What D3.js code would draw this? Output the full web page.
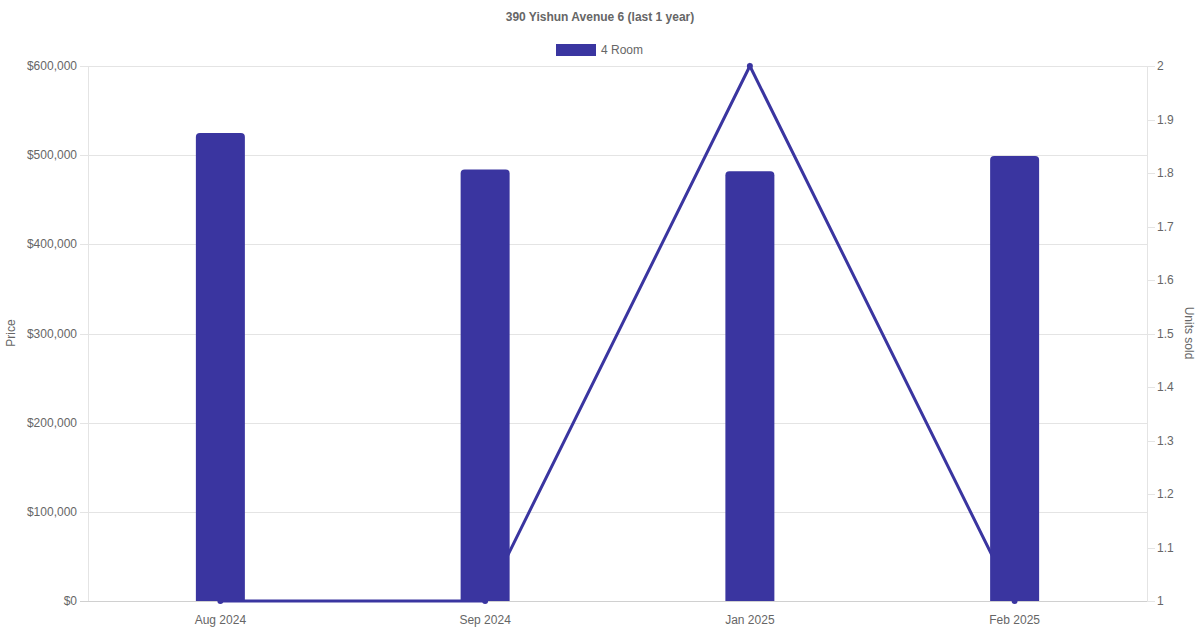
<!DOCTYPE html>
<html><head><meta charset="utf-8">
<script src="https://cdn.jsdelivr.net/npm/d3@7"></script>
<style>body{margin:0;background:#fff}svg{display:block}text{font-family:"Liberation Sans",Arial,Helvetica,sans-serif}</style>
</head><body><svg id="c" width="1200" height="630"></svg>
<script>
const categories = ["Aug 2024","Sep 2024","Jan 2025","Feb 2025"];
const prices = [525000, 484000, 482000, 499000];
const unitsSold = [1, 1, 2, 1];
const priceTicks = [0,100000,200000,300000,400000,500000,600000];
const unitTicks = [1,1.1,1.2,1.3,1.4,1.5,1.6,1.7,1.8,1.9,2];
const title = "390 Yishun Avenue 6 (last 1 year)";
const seriesName = "4 Room";
const color = "#3a35a0";
const grid = "#e4e4e4";
const txt = "#666";

const svg = d3.select("#c");
const L = 88, R = 1147, T = 66, B = 601;
const x = d3.scaleBand().domain(categories).range([L,R]);
const yL = d3.scaleLinear().domain([0,600000]).range([B,T]);
const yR = d3.scaleLinear().domain([1,2]).range([B,T]);

svg.append("text").attr("x",600).attr("y",21).attr("text-anchor","middle")
  .attr("font-size",12).attr("font-weight","bold").attr("fill",txt).text(title);
svg.append("rect").attr("x",556).attr("y",44).attr("width",40).attr("height",12).attr("fill",color);
svg.append("text").attr("x",601).attr("y",54).attr("font-size",12).attr("fill",txt).text(seriesName);

// grid lines left
svg.append("g").selectAll("line").data(priceTicks).join("line")
  .attr("x1",L-8).attr("x2",R).attr("y1",d=>Math.round(yL(d))+0.5).attr("y2",d=>Math.round(yL(d))+0.5)
  .attr("stroke",d=>d===0?"#d0d0d0":grid).attr("stroke-width",1);
svg.append("g").selectAll("text").data(priceTicks).join("text")
  .attr("x",L-11).attr("y",d=>yL(d)+4).attr("text-anchor","end").attr("font-size",12).attr("fill",txt)
  .text(d=>"$"+d3.format(",")(d));
// right ticks
svg.append("g").selectAll("line").data(unitTicks).join("line")
  .attr("x1",R).attr("x2",R+8).attr("y1",d=>Math.round(yR(d))+0.5).attr("y2",d=>Math.round(yR(d))+0.5)
  .attr("stroke",grid);
svg.append("g").selectAll("text").data(unitTicks).join("text")
  .attr("x",R+10).attr("y",d=>yR(d)+4).attr("font-size",12).attr("fill",txt)
  .text(d=>d3.format("~g")(d));
// axis lines
svg.append("line").attr("x1",L+0.5).attr("x2",L+0.5).attr("y1",T).attr("y2",B).attr("stroke",grid);
svg.append("line").attr("x1",R+0.5).attr("x2",R+0.5).attr("y1",T).attr("y2",B).attr("stroke",grid);
// x labels
svg.append("g").selectAll("text").data(categories).join("text")
  .attr("x",d=>x(d)+x.bandwidth()/2).attr("y",624).attr("text-anchor","middle").attr("font-size",12).attr("fill",txt).text(d=>d);
// axis titles
svg.append("text").attr("transform","translate(15,333) rotate(-90)").attr("text-anchor","middle")
  .attr("font-size",12).attr("fill",txt).text("Price");
svg.append("text").attr("transform","translate(1185,333) rotate(90)").attr("text-anchor","middle")
  .attr("font-size",12).attr("fill",txt).text("Units sold");

// line
const cx = d=>x(d)+x.bandwidth()/2;
const line = d3.line().x((d,i)=>cx(categories[i])).y(d=>yR(d));
svg.append("path").datum(unitsSold).attr("d",line).attr("fill","none").attr("stroke",color).attr("stroke-width",3);
svg.append("g").selectAll("circle").data(unitsSold).join("circle")
  .attr("cx",(d,i)=>cx(categories[i])).attr("cy",d=>yR(d)).attr("r",3).attr("fill",color);

// bars with rounded top
const bw = 49, r = 4;
svg.append("g").selectAll("path").data(prices).join("path")
  .attr("d",(d,i)=>{
    const x0 = cx(categories[i]) - bw/2, x1 = x0 + bw, y0 = yL(d), yb = B;
    return `M${x0},${yb}V${y0+r}Q${x0},${y0} ${x0+r},${y0}H${x1-r}Q${x1},${y0} ${x1},${y0+r}V${yb}Z`;
  }).attr("fill",color);
</script></body></html>
